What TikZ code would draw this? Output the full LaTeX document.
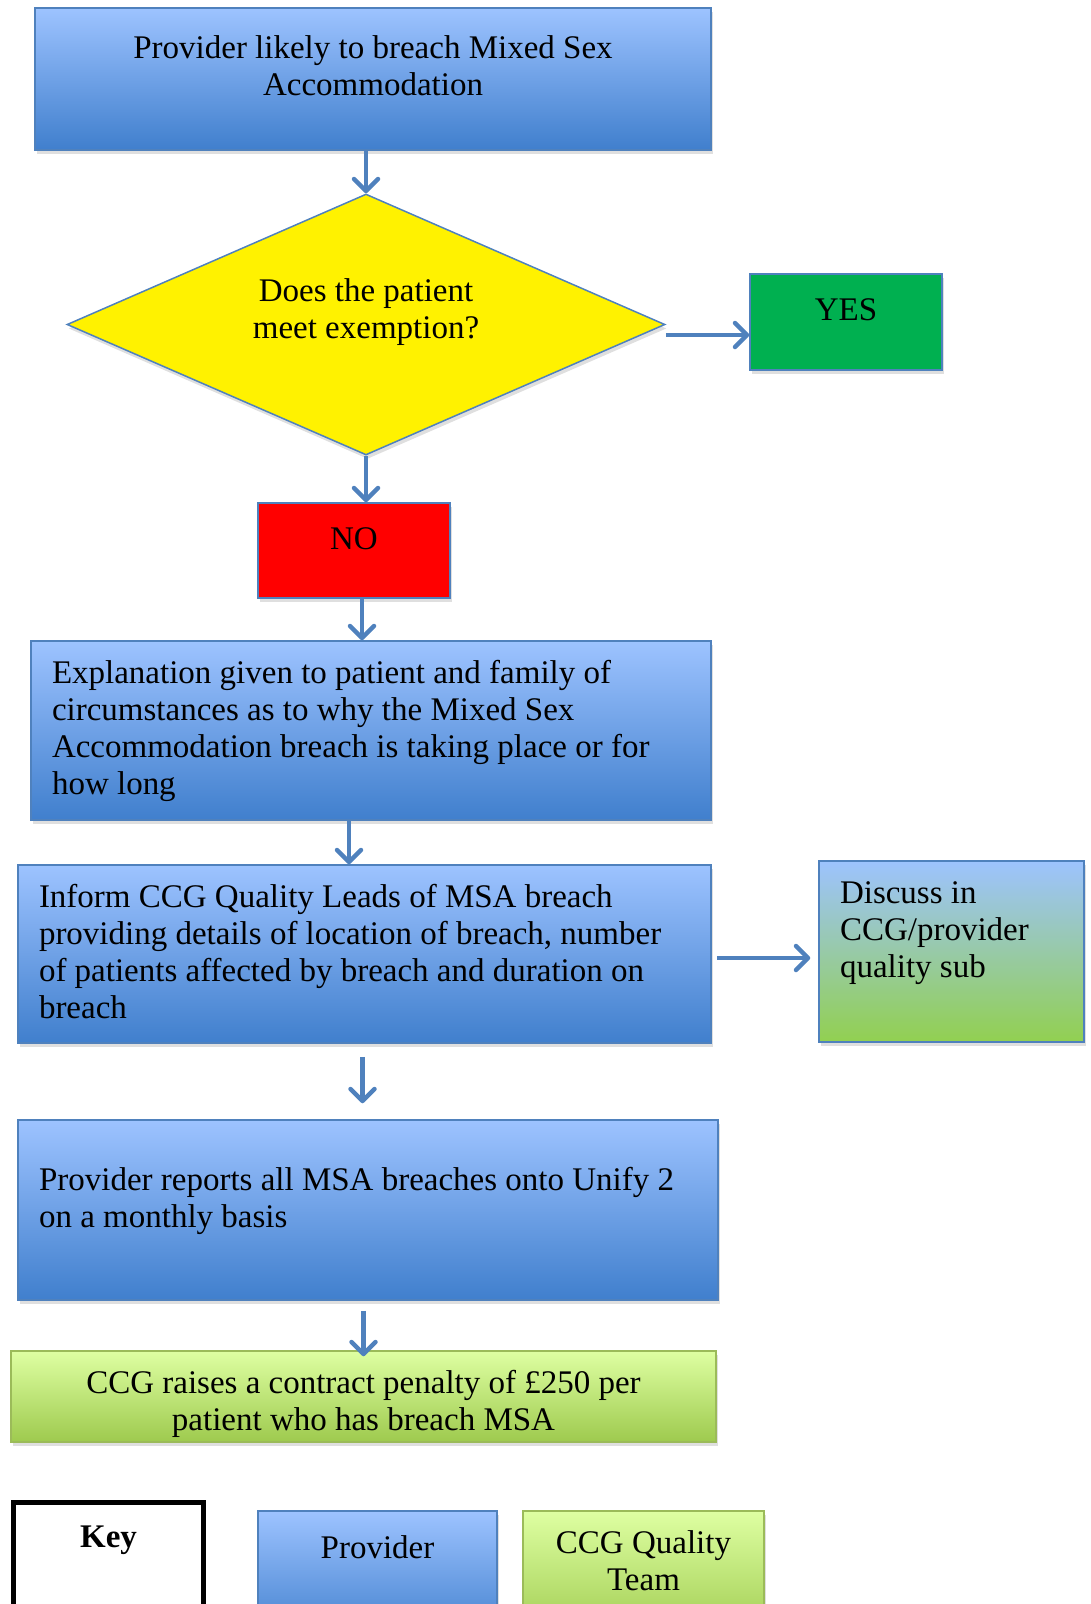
\documentclass[tikz,border=0pt]{standalone}
\usepackage{fontspec}
\setmainfont{Liberation Serif}
\usetikzlibrary{arrows.meta, shapes.geometric, shadows}

\definecolor{msablue}{RGB}{79,129,189}
\definecolor{provtop}{RGB}{157,195,255}
\definecolor{provbot}{RGB}{64,127,205}
\definecolor{ccgtop}{RGB}{222,255,162}
\definecolor{ccgbot}{RGB}{158,202,78}
\definecolor{ccgline}{RGB}{155,187,89}
\definecolor{subbot}{RGB}{146,208,80}
\definecolor{yesgreen}{RGB}{0,176,80}

\begin{document}
\begin{tikzpicture}[x=1pt, y=1pt, font=\fontsize{33}{37}\selectfont,
  flowbox/.style={rectangle, draw=msablue, line width=1.5pt, inner sep=0pt,
    drop shadow={shadow xshift=1.5pt, shadow yshift=-4pt, opacity=0.25}},
  provbox/.style={flowbox, top color=provtop, bottom color=provbot},
  ccgbox/.style={flowbox, draw=ccgline, top color=ccgtop, bottom color=ccgbot},
  subbox/.style={flowbox, top color=provtop, bottom color=subbot},
  decision/.style={diamond, aspect=2.29, draw=msablue, line width=1.5pt, fill=yellow, inner sep=0pt,
    drop shadow={shadow xshift=1.5pt, shadow yshift=-4pt, opacity=0.25}},
  keybox/.style={rectangle, draw=black, line width=5pt, fill=white, inner sep=0pt},
  flow/.style={draw=msablue, line width=4.5pt, -{Straight Barb[length=12pt, width=24pt, round]}}]

\useasboundingbox (0, 0) rectangle (1091, -1604);
\clip (0, 0) rectangle (1091, -1604);

\node (provider)[provbox, minimum width=676pt, minimum height=142pt] at (373, -79)
  {\parbox{640pt}{\centering Provider likely to breach Mixed Sex\\Accommodation\par\vspace{26pt}}};

\node (decide)[decision, minimum width=598pt, minimum height=261pt] at (366, -324.5)
  {\parbox{300pt}{\centering Does the patient\\meet exemption?\par\vspace{24pt}}};

\node (yes)[flowbox, fill=yesgreen, minimum width=192pt, minimum height=96pt] at (846, -322)
  {\parbox{150pt}{\centering YES\par\vspace{24pt}}};
\node (no)[flowbox, fill=red, minimum width=192pt, minimum height=95pt] at (354, -550.5)
  {\parbox{150pt}{\centering NO\par\vspace{23pt}}};

\node (explain)[provbox, minimum width=680pt, minimum height=179pt] at (371, -730.5)
  {\parbox{638pt}{\raggedright Explanation given to patient and family of\\circumstances as to why the Mixed Sex\\Accommodation breach is taking place or for\\how long}};

\node (inform)[provbox, minimum width=693pt, minimum height=178pt] at (364.5, -954)
  {\parbox{651pt}{\raggedright Inform CCG Quality Leads of MSA breach\\providing details of location of breach, number\\of patients affected by breach and duration on\\breach\par\vspace{4pt}}};

\node (discuss)[subbox, minimum width=265pt, minimum height=181pt] at (951.5, -951.5)
  {\parbox{223pt}{\raggedright Discuss in\\CCG/provider\\quality sub\par\vspace{36pt}}};

\node (report)[provbox, minimum width=700pt, minimum height=180pt] at (368, -1210)
  {\parbox{658pt}{\raggedright Provider reports all MSA breaches onto Unify 2\\on a monthly basis\par\vspace{18pt}}};

\node (penalty)[ccgbox, minimum width=705pt, minimum height=91pt] at (363.5, -1396.5)
  {\parbox{680pt}{\centering CCG raises a contract penalty of £250 per\\patient who has breach MSA\par\vspace{-14pt}}};

\node (key)[keybox, minimum width=190pt, minimum height=130pt] at (108.5, -1567)
  {\parbox{150pt}{\centering\bfseries Key\par\vspace{54pt}}};
\node (provkey)[provbox, minimum width=239pt, minimum height=130pt] at (377.5, -1576)
  {\parbox{200pt}{\centering Provider\par\vspace{58pt}}};
\node (ccgkey)[ccgbox, minimum width=241pt, minimum height=130pt] at (643.5, -1576)
  {\parbox{200pt}{\centering CCG Quality\\Team\par\vspace{30pt}}};

\draw[flow] (provider.south -| decide.north) -- (decide.north);
\draw[flow] ([yshift=-13pt]yes.west -| decide.east) -- ([yshift=-13pt]yes.west);
\draw[flow] (decide.south) -- (decide.south |- no.north);
\draw[flow] ([xshift=8pt]no.south) -- ([xshift=8pt]no.south |- explain.north);
\draw[flow] ([xshift=-22pt]explain.south) -- ([xshift=-22pt]explain.south |- inform.north);
\draw[flow] ([xshift=5pt, yshift=-4pt]inform.east) -- ([xshift=-8pt, yshift=-4pt]inform.east -| discuss.west);
\draw[flow] ([xshift=-2pt, yshift=-13pt]inform.south) -- ([xshift=-2pt, yshift=16pt]inform.south |- report.north);
\draw[flow] ([yshift=-10pt]penalty.north |- report.south) -- ([yshift=-6pt]penalty.north);

\end{tikzpicture}
\end{document}
